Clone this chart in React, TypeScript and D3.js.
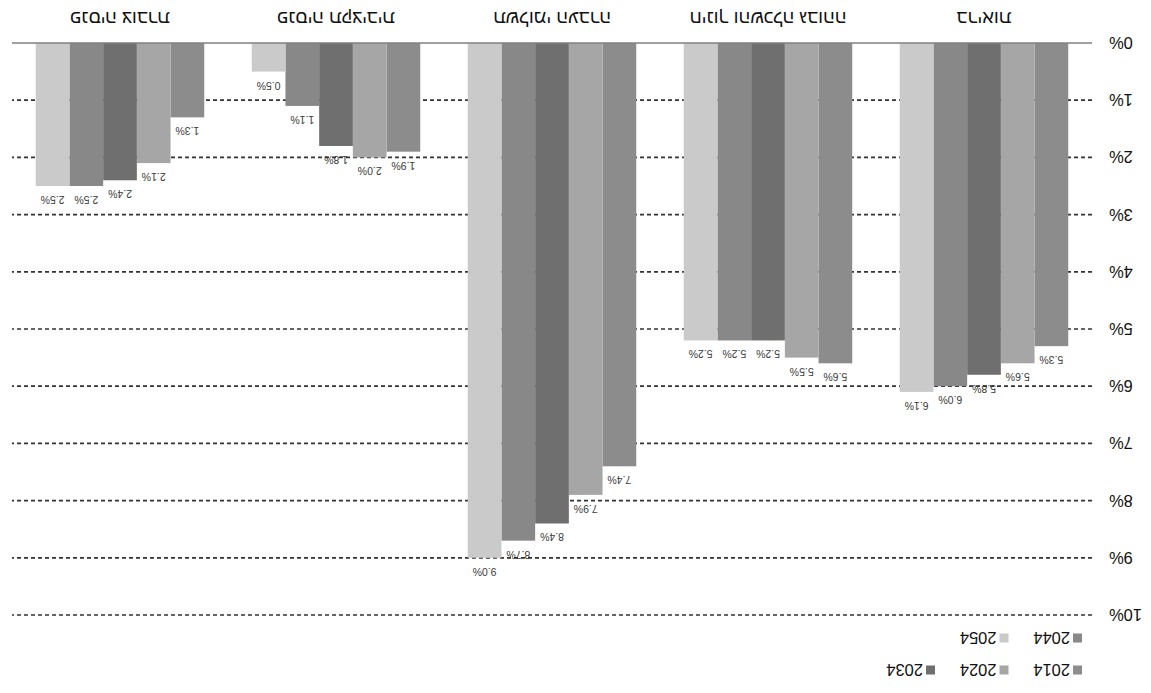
import React from "react";
import * as d3 from "d3";

// Government expenditure projections, percent of GDP
const categories = ["בריאות", "חינוך והשכלה גבוהה", "תשלומי העברה", "פנסיה תקציבית", "פנסיה צוברת"];
const years = ["2014", "2024", "2034", "2044", "2054"];
const values2014 = [5.3, 5.6, 7.4, 1.9, 1.3];
const values2024 = [5.6, 5.5, 7.9, 2.0, 2.1];
const values2034 = [5.8, 5.2, 8.4, 1.8, 2.4];
const values2044 = [6.0, 5.2, 8.7, 1.1, 2.5];
const values2054 = [6.1, 5.2, 9.0, 0.5, 2.5];
const yTicks = [0, 1, 2, 3, 4, 5, 6, 7, 8, 9, 10];
const seriesColors = ["#8c8c8c", "#a6a6a6", "#6f6f6f", "#888888", "#cacaca"];

const series = [values2014, values2024, values2034, values2044, values2054];

const W = 1151;
const H = 693;
const FONT = "'Liberation Sans', 'DejaVu Sans', Arial, sans-serif";

export default function App() {
  const x = d3.scaleBand<string>().domain(categories).range([59, 1139]).paddingInner(0.22).paddingOuter(0.11);
  const xi = d3.scaleBand<string>().domain(years).range([0, x.bandwidth()]).padding(0);
  const y = d3.scaleLinear().domain([0, 10]).range([650, 78]);
  const [x0, x1] = x.range();

  const legendRows = [years.slice(0, 3), years.slice(3)];
  const legendRowY = [23, 55];
  const legendStep = 73.5;

  return (
    <svg
      width={W}
      height={H}
      style={{ position: "absolute", left: 0, top: 0, background: "#fff" }}
      fontFamily={FONT}
    >
      <rect x={0} y={0} width={W} height={H} fill="#fff" />
      {/* the whole chart is drawn turned through 180 degrees */}
      <g transform={`rotate(180 ${W / 2} ${H / 2})`}>
        {/* gridlines */}
        {yTicks.filter((t) => t > 0).map((t) => (
          <line
            key={`g${t}`}
            x1={x0}
            x2={x1}
            y1={y(t)}
            y2={y(t)}
            stroke="#333"
            strokeWidth={1.7}
            strokeDasharray="4 3"
          />
        ))}
        {/* y-axis labels */}
        {yTicks.map((t) => (
          <text
            key={`yl${t}`}
            x={42}
            y={y(t)}
            textAnchor="end"
            dominantBaseline="central"
            fontSize={16.5}
            fill="#111"
          >
            {`${t}%`}
          </text>
        ))}
        {/* bars */}
        {categories.map((c, ci) => (
          <g key={c} transform={`translate(${x(c)},0)`}>
            {years.map((yr, si) => {
              const v = series[si][ci];
              const bx = xi(yr) as number;
              return (
                <g key={yr}>
                  <rect
                    x={bx}
                    y={y(v)}
                    width={xi.bandwidth()}
                    height={y(0) - y(v)}
                    fill={seriesColors[si]}
                  />
                  <text
                    x={bx + xi.bandwidth() / 2}
                    y={y(v) - 10}
                    textAnchor="middle"
                    fontSize={10.5}
                    fill="#3a3a3a"
                  >
                    {`${v.toFixed(1)}%`}
                  </text>
                </g>
              );
            })}
          </g>
        ))}
        {/* baseline */}
        <line x1={x0} x2={x1} y1={y(0)} y2={y(0)} stroke="#808080" strokeWidth={1.5} />
        {/* category labels */}
        {categories.map((c) => (
          <text
            key={`cl${c}`}
            x={(x(c) as number) + x.bandwidth() / 2}
            y={675}
            textAnchor="middle"
            dominantBaseline="central"
            fontSize={18.5}
            fill="#111"
          >
            {c}
          </text>
        ))}
        {/* legend */}
        {legendRows.map((row, ri) =>
          row.map((yr, k) => {
            const si = years.indexOf(yr);
            const lx = 69 + k * legendStep;
            const ly = legendRowY[ri];
            return (
              <g key={`lg${yr}`}>
                <rect x={lx} y={ly - 4.5} width={9} height={9} fill={seriesColors[si]} />
                <text x={lx + 12} y={ly} dominantBaseline="central" fontSize={16.5} fill="#111">
                  {yr}
                </text>
              </g>
            );
          })
        )}
      </g>
    </svg>
  );
}
